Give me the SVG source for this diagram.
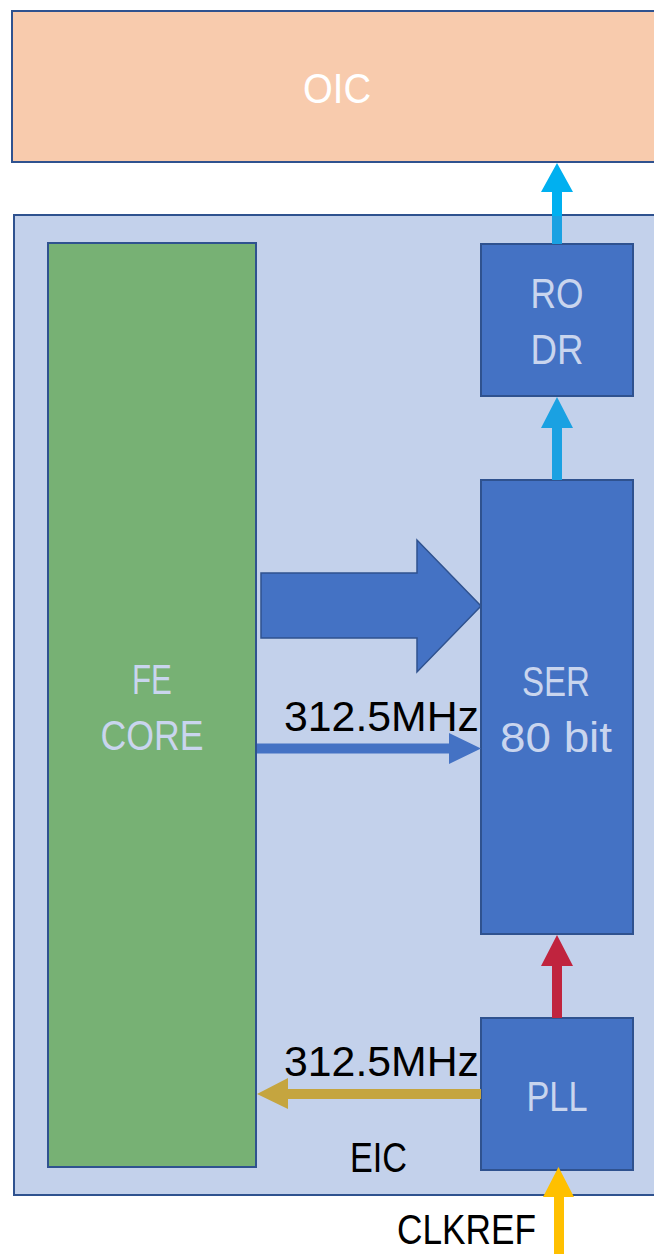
<svg xmlns="http://www.w3.org/2000/svg" width="654" height="1254" viewBox="0 0 654 1254">
<style>
.box{fill:#4472C4;stroke:#2F528F;stroke-width:2}
.lbl{font-family:"Liberation Sans",Arial,sans-serif;font-size:42px;fill:#C9D5EE;text-anchor:middle}
.blk{font-family:"Liberation Sans",Arial,sans-serif;font-size:42px;fill:#000}
</style>
<rect width="654" height="1254" fill="#FFFFFF"/>
<g id="oic">
<rect x="12" y="11" width="660" height="151" fill="#F8CBAD" stroke="#2F528F" stroke-width="2"/>
<text class="lbl" x="337" y="103" style="fill:#FFFFFF" textLength="68" lengthAdjust="spacingAndGlyphs">OIC</text>
</g>
<g id="eic">
<rect x="14" y="215" width="660" height="980" fill="#C3D1EB" stroke="#2F528F" stroke-width="2"/>
<text class="blk" x="350" y="1172" textLength="57" lengthAdjust="spacingAndGlyphs">EIC</text>
</g>
<g id="fecore">
<rect x="48" y="243" width="208" height="924" fill="#77B174" stroke="#2F528F" stroke-width="2"/>
<text class="lbl" x="152" y="694" textLength="40" lengthAdjust="spacingAndGlyphs">FE</text>
<text class="lbl" x="152" y="750" textLength="103" lengthAdjust="spacingAndGlyphs">CORE</text>
</g>
<g id="rodr">
<rect class="box" x="481" y="244" width="152" height="152"/>
<text class="lbl" x="557" y="308" textLength="53" lengthAdjust="spacingAndGlyphs">RO</text>
<text class="lbl" x="557" y="364" textLength="53" lengthAdjust="spacingAndGlyphs">DR</text>
</g>
<g id="ser">
<rect class="box" x="481" y="480" width="152" height="454"/>
<text class="lbl" x="556" y="696" textLength="68" lengthAdjust="spacingAndGlyphs">SER</text>
<text class="lbl" x="556" y="752" textLength="112" lengthAdjust="spacingAndGlyphs">80 bit</text>
</g>
<g id="pll">
<rect class="box" x="481" y="1018" width="152" height="152"/>
<text class="lbl" x="557" y="1111" textLength="61" lengthAdjust="spacingAndGlyphs">PLL</text>
</g>
<g id="connectors">
<polygon points="552,244 552,192 541,192 557,163 573,192 562,192 562,244" fill="#00B0F0"/>
<rect x="552" y="216" width="10" height="28" fill="#1AA1E2"/>
<polygon points="552,480 552,428 541,428 557,397 573,428 562,428 562,480" fill="#1AA1E2"/>
<polygon points="261,573 417,573 417,540 481,606 417,672 417,638 261,638" fill="#4472C4" stroke="#2F528F" stroke-width="1.5"/>
<polygon points="257,743.5 449,743.5 449,733 481,748.5 449,764 449,753.5 257,753.5" fill="#4472C4"/>
<text class="blk" x="284" y="731" textLength="195" lengthAdjust="spacingAndGlyphs">312.5MHz</text>
<polygon points="552,1018 552,966 541,966 557,935 573,966 562,966 562,1018" fill="#C0243E"/>
<polygon points="481,1089 288,1089 288,1078 257,1094 288,1109 288,1099 481,1099" fill="#C5A53F"/>
<text class="blk" x="284" y="1076" textLength="195" lengthAdjust="spacingAndGlyphs">312.5MHz</text>
<polygon points="554,1254 554,1197 543,1197 558.5,1167 574,1197 564,1197 564,1254" fill="#FFC000"/>
<text class="blk" x="397" y="1244" font-size="38" textLength="139" lengthAdjust="spacingAndGlyphs">CLKREF</text>
</g>
</svg>
